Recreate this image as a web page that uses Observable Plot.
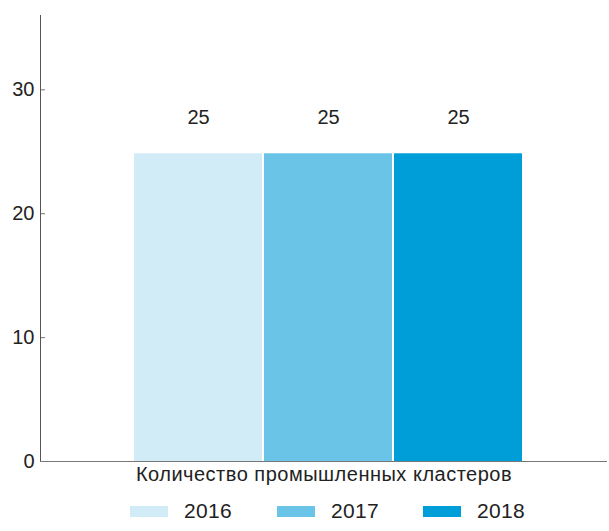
<!DOCTYPE html>
<html>
<head>
<meta charset="utf-8">
<script src="https://cdn.jsdelivr.net/npm/d3@7"></script>
<script src="https://cdn.jsdelivr.net/npm/@observablehq/plot@0.6"></script>
<style>
  body { margin: 0; background: #fff; font-family: "Liberation Sans", Arial, sans-serif; }
  #legend { position: relative; height: 41px; width: 609px; }
  .item { position: absolute; top: 21px; display: flex; align-items: center; font-size: 21px; color: #222; letter-spacing: 0.3px; }
  .sw { width: 38px; height: 11px; margin-right: 16px; }
</style>
</head>
<body>
<div id="chart"></div>
<div id="legend"></div>
<script>
const years = ["2016", "2017", "2018"];
const values = [25, 25, 25];
const colors = ["#d2ecf7", "#69c4e8", "#009ed8"];
const yTicks = [0, 10, 20, 30];
const category = "Количество промышленных кластеров";

const data = years.map((y, i) => ({year: y, value: values[i]}));

const plot = Plot.plot({
  width: 609,
  height: 490,
  marginTop: 15,
  marginBottom: 29,
  marginLeft: 40,
  marginRight: 2,
  style: {fontFamily: "Liberation Sans, Arial, sans-serif", fontSize: "20px", color: "#222"},
  x: {domain: years, range: [133, 523], paddingInner: 0.016, paddingOuter: 0, axis: null},
  y: {domain: [0, 36], axis: null},
  color: {domain: years, range: colors},
  marks: [
    Plot.barY(data, {x: "year", y: "value", fill: "year", insetTop: 2}),
    Plot.text(data, {x: "year", y: "value", text: d => String(d.value), dy: -34, fill: "#222", fontSize: 20}),
    Plot.axisY({ticks: yTicks, tickSize: -5, tickPadding: 11, stroke: "#777", label: null, fontSize: 20, fill: "#222"}),
    Plot.frame({anchor: "left", stroke: "#555"}),
    Plot.ruleY([0], {stroke: "#777"}),
    Plot.text([category], {frameAnchor: "bottom", dy: 13, fontSize: 20, fill: "#222", lineAnchor: "middle", text: d => d, style: "letter-spacing:0.5px"})
  ]
});
plot.querySelectorAll("text").forEach(t => {
  if (t.textContent === category) t.setAttribute("letter-spacing", "0.5");
});
document.getElementById("chart").appendChild(plot);

const legend = document.getElementById("legend");
const lefts = [130, 277, 423];
years.forEach((y, i) => {
  const it = document.createElement("div");
  it.className = "item";
  it.style.left = lefts[i] + "px";
  it.style.transform = "translateY(-50%)";
  it.innerHTML = `<span class="sw" style="background:${colors[i]}"></span><span>${y}</span>`;
  legend.appendChild(it);
});
</script>
</body>
</html>
